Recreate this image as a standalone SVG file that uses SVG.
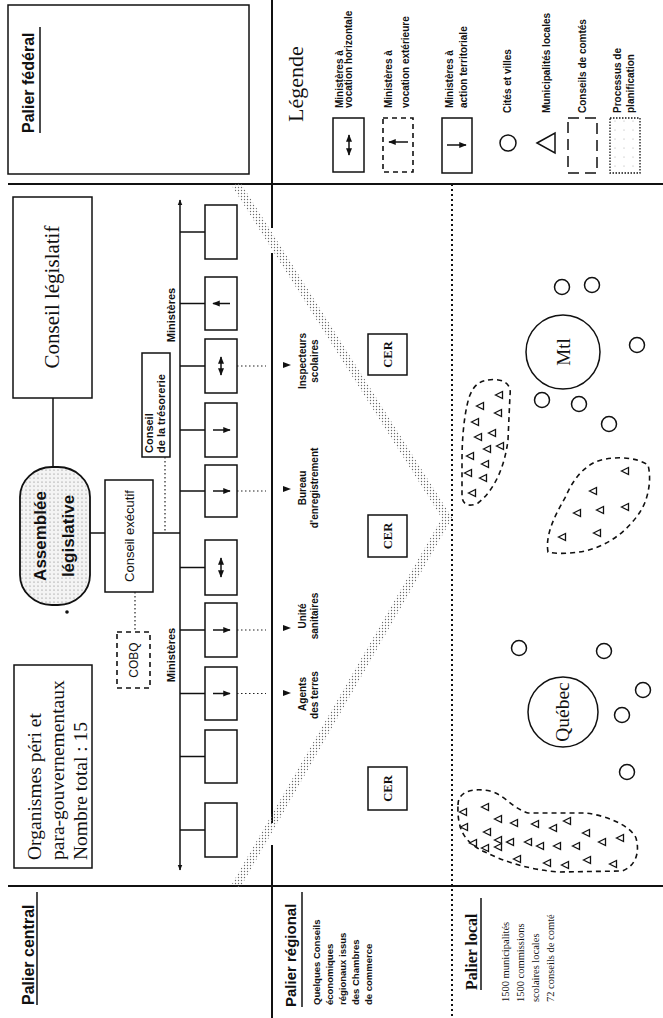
<svg xmlns="http://www.w3.org/2000/svg" width="663" height="1018" viewBox="0 0 663 1018">
<style>
.ln{stroke:#111;stroke-width:1.5;fill:none}
.thk{stroke:#111;stroke-width:2;fill:none}
.box{stroke:#111;stroke-width:1.5;fill:#fff}
.dot{stroke:#222;stroke-width:1.2;fill:none;stroke-dasharray:1.5 2.5}
.dash{stroke:#111;stroke-width:1.6;fill:none;stroke-dasharray:5 4}
.sb{font-family:"Liberation Sans",Arial,sans-serif;font-weight:bold;fill:#111}
.s{font-family:"Liberation Sans",Arial,sans-serif;fill:#111}
.se{font-family:"Liberation Serif","Times New Roman",serif;fill:#111}
.seb{font-family:"Liberation Serif","Times New Roman",serif;font-weight:bold;fill:#111}
.mid{text-anchor:middle}
.end{text-anchor:end}
</style>
<defs>
<pattern id="stip" width="3" height="3" patternUnits="userSpaceOnUse"><circle cx="1.5" cy="1.5" r="0.7" fill="#6a6a6a"/></pattern>
<pattern id="stip2" width="4" height="4" patternUnits="userSpaceOnUse"><rect width="4" height="4" fill="#f4f4f4"/><circle cx="2" cy="2" r="0.6" fill="#777"/></pattern>
<pattern id="stip3" width="9" height="9" patternUnits="userSpaceOnUse"><circle cx="3" cy="4" r="0.5" fill="#999"/></pattern>
<marker id="ah" viewBox="0 0 10 10" refX="9" refY="5" markerWidth="5" markerHeight="5" orient="auto-start-reverse"><path d="M0,1 L10,5 L0,9 Z" fill="#111"/></marker>
<marker id="big" viewBox="0 0 10 10" refX="9" refY="5" markerWidth="4" markerHeight="4" orient="auto-start-reverse"><path d="M0,1 L10,5 L0,9 Z" fill="#111"/></marker>
<path id="tri" d="M-3.5,0 L3.5,-3.5 L3.5,3.5 Z" fill="#fff" stroke="#111" stroke-width="1.3"/>
</defs>

<g id="frame">
<line class="thk" x1="8" y1="184" x2="663" y2="184"/>
<line class="thk" x1="8" y1="886" x2="663" y2="886"/>
<line class="thk" x1="272" y1="0" x2="272" y2="228"/>
<line class="thk" x1="272" y1="253" x2="272" y2="823"/>
<line class="thk" x1="272" y1="845" x2="272" y2="1018"/>
<line x1="452" y1="184" x2="452" y2="1018" stroke="#111" stroke-width="2" stroke-dasharray="2 3"/>
</g>

<g id="planification">
<path d="M236,184 L447,518 L236,886" fill="none" stroke="url(#stip)" stroke-width="9" stroke-linejoin="miter"/>
</g>

<g id="palier-federal">
<rect class="box" x="8" y="5" width="241" height="169"/>
<text class="sb" font-size="16" transform="translate(34,133) rotate(-90)">Palier fédéral</text>
<line class="ln" x1="40" y1="27" x2="40" y2="133"/>
</g>

<g id="legende">
<text class="se" font-size="22" transform="translate(303,122) rotate(-90)">Légende</text>
<rect class="box" x="333" y="118" width="31" height="54"/>
<line class="ln" x1="349" y1="135" x2="349" y2="155" marker-start="url(#ah)" marker-end="url(#ah)"/>
<text class="sb" font-size="10" transform="translate(343,108) rotate(-90)">Ministères à</text>
<text class="sb" font-size="10" transform="translate(352,108) rotate(-90)">vocation horizontale</text>
<rect class="dash" x="383" y="118" width="30" height="54"/>
<line class="ln" x1="389" y1="142" x2="408" y2="142" marker-start="url(#ah)"/>
<text class="sb" font-size="10" transform="translate(392,108) rotate(-90)">Ministères à</text>
<text class="sb" font-size="10" transform="translate(409,108) rotate(-90)">vocation extérieure</text>
<rect class="box" x="442" y="118" width="30" height="55"/>
<line class="ln" x1="447" y1="145" x2="466" y2="145" marker-end="url(#ah)"/>
<text class="sb" font-size="10" transform="translate(453,108) rotate(-90)">Ministères à</text>
<text class="sb" font-size="10" transform="translate(467,108) rotate(-90)">action territoriale</text>
<circle class="box" cx="508" cy="143" r="8"/>
<text class="sb" font-size="10" transform="translate(511,113) rotate(-90)">Cités et villes</text>
<path d="M537,143 L555,133 L555,153 Z" class="box"/>
<text class="sb" font-size="10" transform="translate(550,113) rotate(-90)">Municipalités locales</text>
<rect x="568" y="118" width="29" height="55" fill="none" stroke="#111" stroke-width="1.5" stroke-dasharray="11 6"/>
<text class="sb" font-size="10" transform="translate(586,113) rotate(-90)">Conseils de comtés</text>
<rect x="610" y="118" width="30" height="55" fill="url(#stip3)" stroke="#111" stroke-width="1.3" stroke-dasharray="1.5 1.5"/>
<text class="sb" font-size="10" transform="translate(621,113) rotate(-90)">Processus de</text>
<text class="sb" font-size="10" transform="translate(634,113) rotate(-90)">planification</text>
</g>

<g id="palier-labels">
<text class="sb" font-size="16" transform="translate(34,1005) rotate(-90)">Palier central</text>
<line class="ln" x1="37" y1="892" x2="37" y2="1005"/>
<text class="sb" font-size="15" transform="translate(296,1007) rotate(-90)">Palier régional</text>
<line class="ln" x1="302" y1="892" x2="302" y2="1007"/>
<text class="sb" font-size="9.5" transform="translate(320,1005) rotate(-90)">Quelques Conseils</text>
<text class="sb" font-size="9.5" transform="translate(333,1005) rotate(-90)">économiques</text>
<text class="sb" font-size="9.5" transform="translate(346,1005) rotate(-90)">régionaux issus</text>
<text class="sb" font-size="9.5" transform="translate(359,1005) rotate(-90)">des Chambres</text>
<text class="sb" font-size="9.5" transform="translate(372,1005) rotate(-90)">de commerce</text>
<text class="seb" font-size="16" transform="translate(477,990) rotate(-90)">Palier local</text>
<line class="ln" x1="481" y1="898" x2="481" y2="990"/>
<text class="se" font-size="10.5" transform="translate(509,1002) rotate(-90)">1500 municipalités</text>
<text class="se" font-size="10.5" transform="translate(524,1002) rotate(-90)">1500 commissions</text>
<text class="se" font-size="10.5" transform="translate(539,1002) rotate(-90)">scolaires locales</text>
<text class="se" font-size="10.5" transform="translate(554,1002) rotate(-90)">72 conseils de comté</text>
</g>

<g id="conseil-legislatif">
<rect class="box" x="13" y="197" width="79" height="201"/>
<text class="se mid" font-size="21" transform="translate(59,297) rotate(-90)">Conseil législatif</text>
</g>

<g id="assemblee-legislative">
<rect x="20" y="467" width="70" height="138" rx="32" ry="30" fill="url(#stip2)" stroke="#111" stroke-width="1.8"/>
<text class="sb mid" font-size="17" transform="translate(46,536) rotate(-90)">Assemblée</text>
<text class="sb mid" font-size="17" transform="translate(74,536) rotate(-90)">législative</text>
<circle cx="67" cy="612" r="1.8" fill="#111"/>
</g>

<g id="conseil-executif">
<rect class="box" x="105" y="480" width="48" height="112"/>
<text class="s mid" font-size="13" transform="translate(134,536) rotate(-90)">Conseil exécutif</text>
</g>

<g id="conseil-tresorerie">
<rect class="box" x="142" y="353" width="28" height="104"/>
<text class="sb" font-size="11" transform="translate(153,453) rotate(-90)">Conseil</text>
<text class="sb" font-size="11" transform="translate(165,453) rotate(-90)">de la trésorerie</text>
</g>

<g id="cobq">
<rect class="dash" x="117" y="632" width="33" height="56"/>
<text class="s mid" font-size="12" transform="translate(138,660) rotate(-90)">COBQ</text>
</g>

<g id="organismes">
<rect class="box" x="14" y="665" width="78" height="203"/>
<text class="se" font-size="19.5" transform="translate(41,860) rotate(-90)">Organismes péri et</text>
<text class="se" font-size="19.5" transform="translate(64,860) rotate(-90)">para-gouvernementaux</text>
<text class="se" font-size="19.5" transform="translate(87,860) rotate(-90)">Nombre total : 15</text>
</g>

<g id="ministeres">
<text class="sb mid" font-size="11" transform="translate(175,315) rotate(-90)">Ministères</text>
<text class="sb mid" font-size="11" transform="translate(175,655) rotate(-90)">Ministères</text>
<rect class="box" x="205" y="205" width="32" height="54"/>
<rect class="box" x="205" y="277" width="32" height="53"/>
<rect class="box" x="205" y="339" width="32" height="54"/>
<rect class="box" x="205" y="403" width="32" height="54"/>
<rect class="box" x="205" y="465" width="32" height="52"/>
<rect class="box" x="205" y="540" width="32" height="55"/>
<rect class="box" x="205" y="603" width="32" height="54"/>
<rect class="box" x="205" y="667" width="32" height="53"/>
<rect class="box" x="205" y="730" width="32" height="53"/>
<rect class="box" x="205" y="803" width="32" height="54"/>
<line class="ln" x1="213" y1="303.5" x2="230" y2="303.5" marker-start="url(#ah)"/>
<line class="ln" x1="221" y1="357" x2="221" y2="375" marker-start="url(#ah)" marker-end="url(#ah)"/>
<line class="ln" x1="213" y1="430" x2="230" y2="430" marker-end="url(#ah)"/>
<line class="ln" x1="213" y1="491" x2="230" y2="491" marker-end="url(#ah)"/>
<line class="ln" x1="221" y1="558" x2="221" y2="577" marker-start="url(#ah)" marker-end="url(#ah)"/>
<line class="ln" x1="213" y1="630" x2="230" y2="630" marker-end="url(#ah)"/>
<line class="ln" x1="213" y1="693.5" x2="230" y2="693.5" marker-end="url(#ah)"/>
</g>

<g id="services-regionaux">
<polygon points="283,362 291,365 283,368" fill="#111"/>
<polygon points="283,486 291,489 283,492" fill="#111"/>
<polygon points="283,625 291,628 283,631" fill="#111"/>
<polygon points="283,690 291,693 283,696" fill="#111"/>
<text class="sb mid" font-size="10" transform="translate(306,361) rotate(-90)">Inspecteurs</text>
<text class="sb mid" font-size="10" transform="translate(318,361) rotate(-90)">scolaires</text>
<text class="sb mid" font-size="10" transform="translate(306,488) rotate(-90)">Bureau</text>
<text class="sb mid" font-size="10" transform="translate(318,488) rotate(-90)">d'enregistrement</text>
<text class="sb mid" font-size="10" transform="translate(306,616) rotate(-90)">Unité</text>
<text class="sb mid" font-size="10" transform="translate(318,616) rotate(-90)">sanitaires</text>
<text class="sb mid" font-size="10" transform="translate(306,694) rotate(-90)">Agents</text>
<text class="sb mid" font-size="10" transform="translate(318,695) rotate(-90)">des terres</text>
</g>

<g id="cer">
<rect class="box" x="368" y="334" width="39" height="41"/>
<text class="seb mid" font-size="12.5" transform="translate(392,354.5) rotate(-90)">CER</text>
<rect class="box" x="368" y="515" width="39" height="42"/>
<text class="seb mid" font-size="12.5" transform="translate(392,536) rotate(-90)">CER</text>
<rect class="box" x="368" y="767" width="39" height="43"/>
<text class="seb mid" font-size="12.5" transform="translate(392,788.5) rotate(-90)">CER</text>
</g>

<g id="local">
<circle class="box" cx="563" cy="352" r="37"/>
<text class="se mid" font-size="19" transform="translate(570,352) rotate(-90)">Mtl</text>
<circle class="box" cx="563" cy="712" r="35"/>
<text class="se mid" font-size="19.5" transform="translate(569,712) rotate(-90)">Québec</text>
<g class="villes">
<circle class="box" cx="562" cy="287" r="7.5"/>
<circle class="box" cx="592" cy="285" r="7.5"/>
<circle class="box" cx="637" cy="345" r="7.5"/>
<circle class="box" cx="542" cy="400" r="7.5"/>
<circle class="box" cx="579" cy="404" r="7.5"/>
<circle class="box" cx="609" cy="424" r="7.5"/>
<circle class="box" cx="519" cy="648" r="7.5"/>
<circle class="box" cx="604" cy="651" r="7.5"/>
<circle class="box" cx="643" cy="690" r="7.5"/>
<circle class="box" cx="622" cy="715" r="7.5"/>
<circle class="box" cx="627" cy="772" r="7.5"/>
</g>
<path class="dash" d="M488,380 C500,378 512,382 510,395 L508,440 C505,465 495,490 478,503 C470,507 462,506 462,495 L462,460 C462,430 466,405 470,395 C474,385 480,381 488,380 Z"/>
<path class="dash" d="M548,552 C545,535 555,515 565,498 C572,482 580,470 595,462 C610,456 635,456 648,465 C652,480 648,500 640,512 C628,530 610,545 585,551 C570,554 555,554 548,552 Z"/>
<path class="dash" d="M458,805 C458,790 475,788 490,791 C505,795 512,808 528,813 L585,813 C605,815 630,825 636,838 C640,852 636,866 622,871 L560,872 C530,870 505,862 485,852 C465,843 457,830 458,805 Z"/>
<g class="municipalites">
<use href="#tri" x="499" y="395"/><use href="#tri" x="480" y="406"/><use href="#tri" x="498" y="413"/><use href="#tri" x="475" y="422"/><use href="#tri" x="492" y="433"/><use href="#tri" x="478" y="437"/><use href="#tri" x="500" y="446"/><use href="#tri" x="487" y="449"/><use href="#tri" x="470" y="456"/><use href="#tri" x="485" y="464"/><use href="#tri" x="468" y="473"/><use href="#tri" x="483" y="478"/><use href="#tri" x="472" y="493"/>
<use href="#tri" x="625" y="471"/><use href="#tri" x="593" y="491"/><use href="#tri" x="577" y="513"/><use href="#tri" x="600" y="510"/><use href="#tri" x="625" y="507"/><use href="#tri" x="562" y="537"/><use href="#tri" x="597" y="533"/>
<use href="#tri" x="463" y="812"/><use href="#tri" x="485" y="807"/><use href="#tri" x="498" y="819"/><use href="#tri" x="514" y="823"/><use href="#tri" x="535" y="824"/><use href="#tri" x="553" y="828"/><use href="#tri" x="567" y="821"/><use href="#tri" x="464" y="827"/><use href="#tri" x="487" y="832"/><use href="#tri" x="586" y="833"/><use href="#tri" x="473" y="843"/><use href="#tri" x="485" y="848"/><use href="#tri" x="498" y="840"/><use href="#tri" x="498" y="847"/><use href="#tri" x="510" y="842"/><use href="#tri" x="528" y="842"/><use href="#tri" x="540" y="846"/><use href="#tri" x="557" y="846"/><use href="#tri" x="576" y="846"/><use href="#tri" x="602" y="842"/><use href="#tri" x="620" y="838"/><use href="#tri" x="517" y="859"/><use href="#tri" x="547" y="863"/><use href="#tri" x="565" y="865"/><use href="#tri" x="587" y="860"/><use href="#tri" x="613" y="864"/>
</g>
</g>

<g id="connectors">
<line class="ln" x1="53" y1="398" x2="53" y2="467"/>
<line class="ln" x1="90" y1="533" x2="105" y2="533"/>
<line class="ln" x1="153" y1="533" x2="180" y2="533"/>
<line class="dot" x1="165" y1="457" x2="165" y2="533"/>
<line class="dot" x1="135" y1="592" x2="135" y2="632"/>
<line class="ln" x1="180" y1="200" x2="180" y2="870" marker-start="url(#big)" marker-end="url(#big)"/>
<line class="ln" x1="180" y1="232" x2="205" y2="232"/>
<line class="ln" x1="180" y1="303.5" x2="205" y2="303.5"/>
<line class="ln" x1="180" y1="366" x2="205" y2="366"/>
<line class="ln" x1="180" y1="430" x2="205" y2="430"/>
<line class="ln" x1="180" y1="491" x2="205" y2="491"/>
<line class="ln" x1="180" y1="567.5" x2="205" y2="567.5"/>
<line class="ln" x1="180" y1="630" x2="205" y2="630"/>
<line class="ln" x1="180" y1="693.5" x2="205" y2="693.5"/>
<line class="ln" x1="180" y1="756.5" x2="205" y2="756.5"/>
<line class="ln" x1="180" y1="830" x2="205" y2="830"/>
<line class="dot" x1="237" y1="366" x2="266" y2="366"/>
<line class="dot" x1="237" y1="491" x2="266" y2="491"/>
<line class="dot" x1="237" y1="630" x2="266" y2="630"/>
<line class="dot" x1="237" y1="693.5" x2="266" y2="693.5"/>
</g>
</svg>
